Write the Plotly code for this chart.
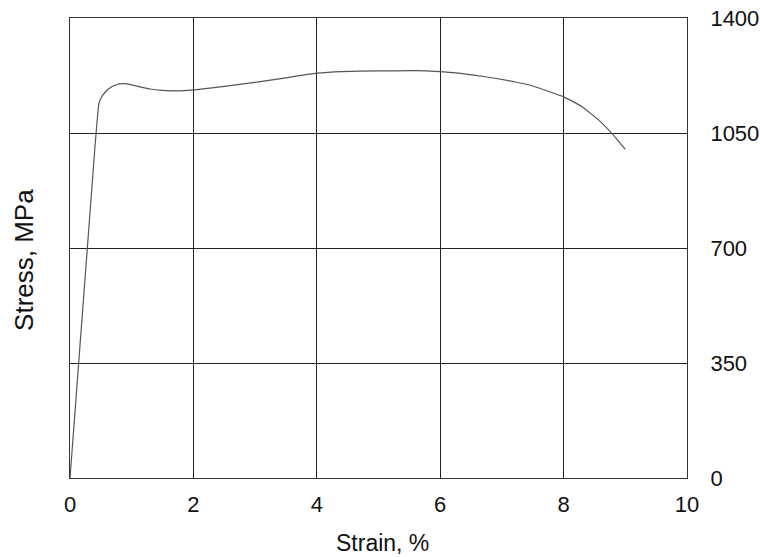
import plotly.graph_objects as go

strain = [0, 0.1, 0.2, 0.3, 0.4, 0.44, 0.47, 0.52, 0.57, 0.65, 0.75, 0.85, 0.95,
          1.1, 1.3, 1.5, 1.7, 2.0, 2.5, 3.0, 3.5, 4.0, 4.4, 5.0, 5.6, 6.2, 6.7,
          7.2, 7.5, 8.0, 8.3, 8.6, 8.8, 9.0]
stress = [0, 249, 498, 747, 996, 1089, 1141, 1162, 1174, 1188, 1197, 1200, 1199,
          1192, 1184, 1180, 1178, 1181, 1192, 1204, 1218, 1232, 1237, 1239, 1240,
          1234, 1222, 1206, 1193, 1160, 1130, 1084, 1045, 1000]

x_ticks = [0, 2, 4, 6, 8, 10]
y_ticks = [0, 350, 700, 1050, 1400]

fig = go.Figure()
fig.add_trace(go.Scatter(x=strain, y=stress, mode="lines",
                         line=dict(color="#555555", width=1.2, shape="spline", smoothing=0.4),
                         showlegend=False, hoverinfo="skip"))

fam = "Liberation Sans, Arial, sans-serif"
tickfont = dict(family=fam, size=22, color="#111111")

fig.update_layout(
    width=760, height=557,
    margin=dict(l=70, r=73, t=18, b=79, autoexpand=False),
    paper_bgcolor="white", plot_bgcolor="white",
    font=tickfont,
    xaxis=dict(range=[0, 10], tickvals=x_ticks, ticktext=[str(v) for v in x_ticks],
               showgrid=True, gridcolor="#222222", gridwidth=1,
               showline=True, linecolor="#333333", linewidth=1, mirror=True,
               zeroline=False, ticks="", ticklabelstandoff=7, tickfont=tickfont,
               automargin=False),
    yaxis=dict(range=[0, 1400], tickvals=y_ticks, ticktext=[str(v) for v in y_ticks],
               side="right", showgrid=True, gridcolor="#222222", gridwidth=1,
               showline=True, linecolor="#333333", linewidth=1, mirror=True,
               zeroline=False, ticks="", ticklabelstandoff=18, tickfont=tickfont,
               automargin=False),
    annotations=[
        dict(text="Strain, %", xref="paper", yref="paper", x=0.506, y=-0.141,
             yanchor="middle", xanchor="center", showarrow=False,
             font=dict(family=fam, size=23, color="#111111")),
        dict(text="Stress, MPa", xref="paper", yref="paper", x=-0.0746, y=0.474,
             xanchor="center", yanchor="middle", textangle=-90, showarrow=False,
             font=dict(family=fam, size=26, color="#111111")),
    ],
)

fig.write_html("out.html")
